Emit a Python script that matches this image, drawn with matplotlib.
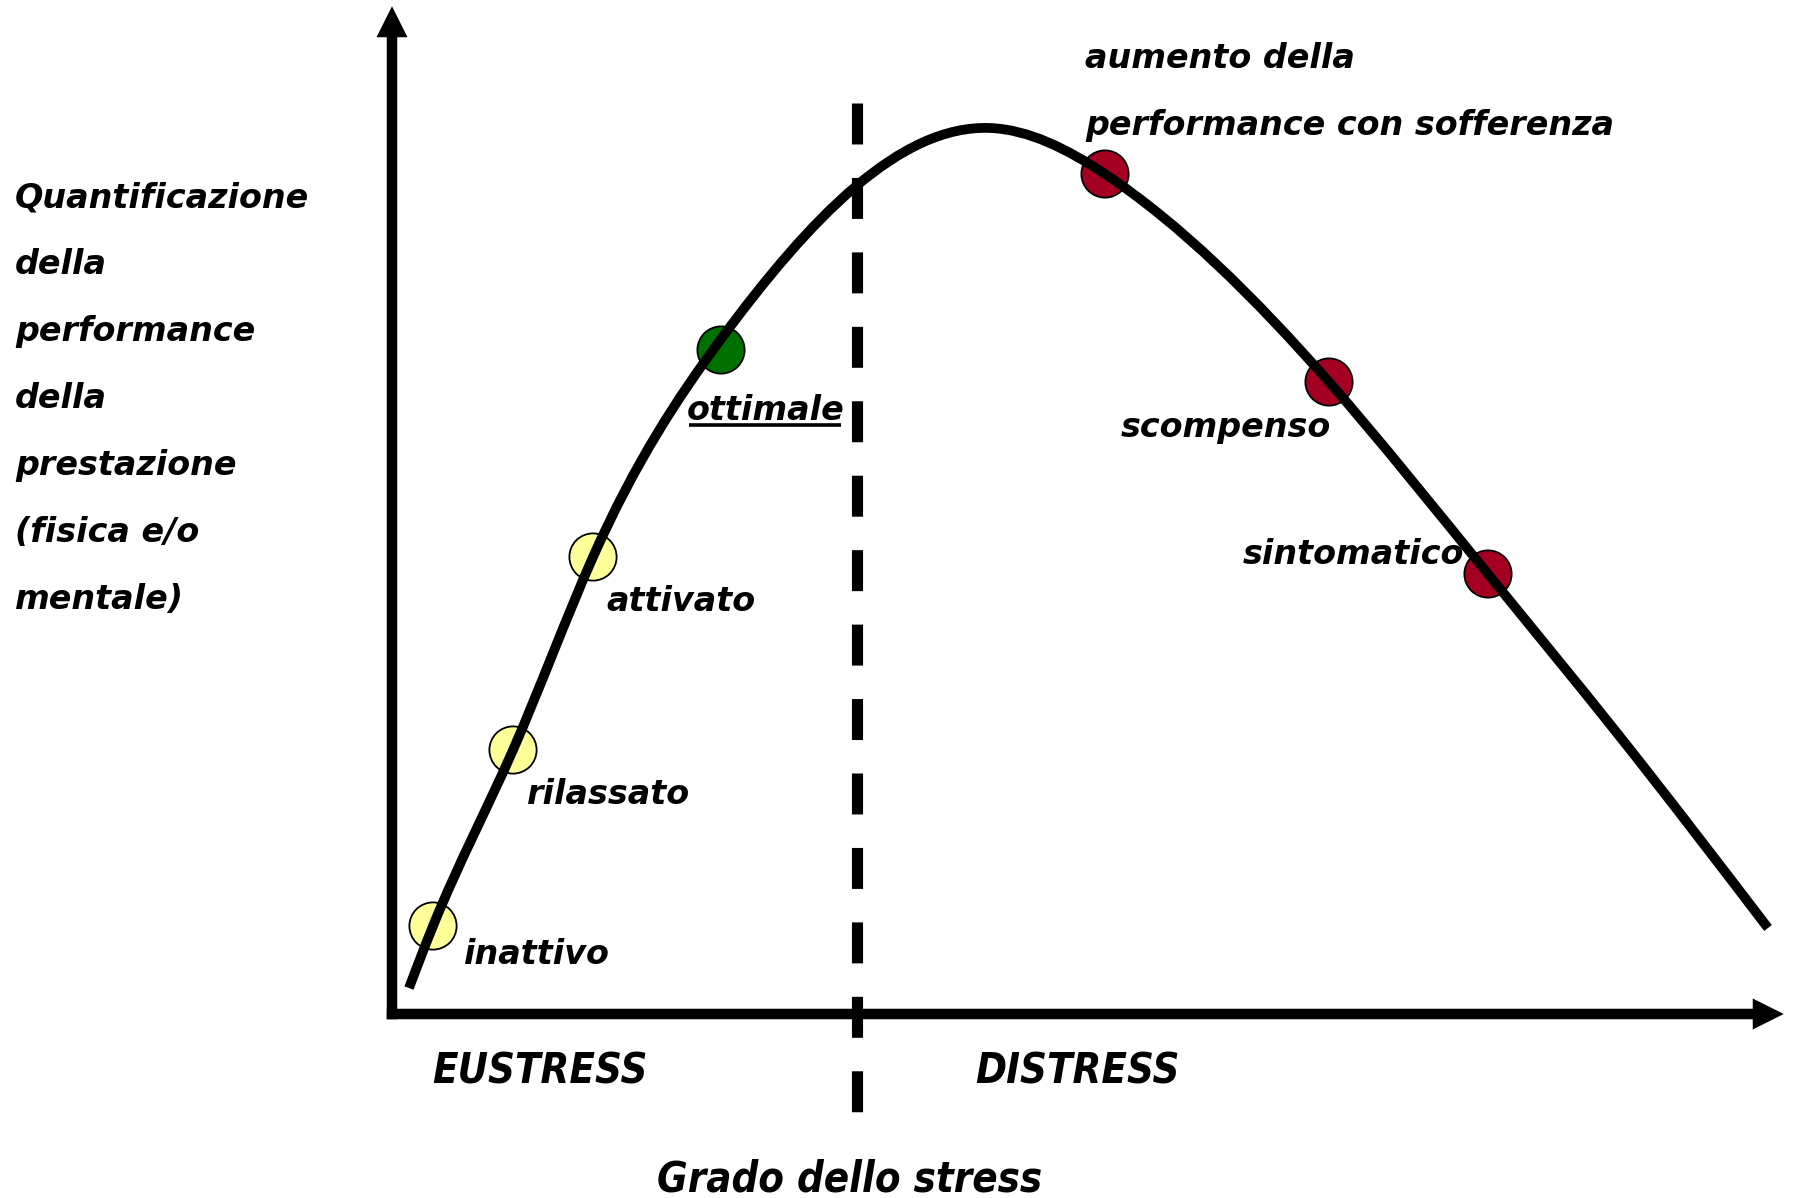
import numpy as np
import matplotlib
matplotlib.use("Agg")
import matplotlib.pyplot as plt
from matplotlib.path import Path
from matplotlib.patches import PathPatch

plt.rcParams["font.family"] = "DejaVu Sans"
plt.rcParams["lines.scale_dashes"] = False

# stress curve (x = degree of stress, y = performance)
curve_x = [0.17, 0.41, 1.21, 2.01, 3.29, 5.98, 7.13, 9.37, 10.96, 12.25, 13.76]
curve_y = [0.26, 0.88, 2.64, 4.57, 6.75, 8.86, 8.40, 6.32, 4.40, 2.81, 0.86]

# points on the curve
point_names = ["inattivo", "rilassato", "attivato", "ottimale", "aumento", "scompenso", "sintomatico"]
point_x = [0.41, 1.21, 2.01, 3.29, 7.13, 9.37, 10.96]
point_y = [0.88, 2.64, 4.57, 6.64, 8.40, 6.32, 4.40]
point_col = ["#FFFF99", "#FFFF99", "#FFFF99", "#007000", "#A50021", "#A50021", "#A50021"]

threshold_x = 4.65  # eustress / distress boundary

ylabel_lines = ["Quantificazione", "della", "performance", "della",
                "prestazione", "(fisica e/o", "mentale)"]

fig = plt.figure(figsize=(17.93, 11.98), dpi=100)
ax = fig.add_axes([0, 0, 1, 1])
ax.set_xlim(-3.92, 14.01)
ax.set_ylim(-1.84, 10.14)
ax.axis("off")

# axes with arrows
ax.arrow(-0.0525, 0, 13.97, 0, width=0.105, head_width=0.31, head_length=0.31,
         length_includes_head=True, fc="black", ec="none", zorder=3)
ax.arrow(0, -0.0525, 0, 10.13, width=0.105, head_width=0.31, head_length=0.31,
         length_includes_head=True, fc="black", ec="none", zorder=3)

# dashed threshold
ax.plot([threshold_x, threshold_x], [9.11, -0.99], color="black", lw=8,
        dashes=(29.5, 24.1), dash_capstyle="butt", zorder=1)

# smooth curve: natural cubic spline slopes, drawn as bezier segments
x = np.array(curve_x)
y = np.array(curve_y)
n = len(x)
h = np.diff(x)
A = np.zeros((n, n))
r = np.zeros(n)
A[0, 0] = A[-1, -1] = 1
for i in range(1, n - 1):
    A[i, i - 1] = h[i - 1]
    A[i, i] = 2 * (h[i - 1] + h[i])
    A[i, i + 1] = h[i]
    r[i] = 6 * ((y[i + 1] - y[i]) / h[i] - (y[i] - y[i - 1]) / h[i - 1])
M = np.linalg.solve(A, r)
m = np.zeros(n)
m[:-1] = (y[1:] - y[:-1]) / h - h * (2 * M[:-1] + M[1:]) / 6
m[-1] = (y[-1] - y[-2]) / h[-1] + h[-1] * (M[-2] + 2 * M[-1]) / 6

verts = [(x[0], y[0])]
codes = [Path.MOVETO]
for i in range(n - 1):
    d = h[i] / 3
    verts += [(x[i] + d, y[i] + m[i] * d), (x[i + 1] - d, y[i + 1] - m[i + 1] * d), (x[i + 1], y[i + 1])]
    codes += [Path.CURVE4] * 3
ax.add_patch(PathPatch(Path(verts, codes), fill=False, lw=7, ec="black",
                       capstyle="butt", zorder=4))

ax.scatter(point_x, point_y, s=34 ** 2, c=point_col, edgecolors="black",
           linewidths=1.3, zorder=3)

txt = dict(fontsize=24, fontweight="bold", fontstyle="italic", va="baseline")

# labels: (text, offset in points from its point, alignment)
labels = {
    "inattivo": [("inattivo", 22, -27, "left")],
    "rilassato": [("rilassato", 10, -39, "left")],
    "attivato": [("attivato", 10, -39, "left")],
    "ottimale": [("ottimale", -24.5, -50.4, "left")],
    "aumento": [("aumento della", -14.4, 76.3, "left"),
                ("performance con sofferenza", -14.4, 28, "left")],
    "scompenso": [("scompenso", 1.5, -39.6, "right")],
    "sintomatico": [("sintomatico", -17.3, 7.2, "right")],
}
opt_txt = None
for name, px, py in zip(point_names, point_x, point_y):
    for s, dx, dy, ha in labels[name]:
        t = ax.annotate(s, (px, py), xytext=(dx, dy), textcoords="offset points",
                        ha=ha, zorder=5, **txt)
        if name == "ottimale":
            opt_txt = (t, px, py, dy)

for i, line in enumerate(ylabel_lines):
    ax.text(-3.77, 8.07 - 0.67 * i, line, ha="left", **txt)

big = dict(fontsize=30, fontweight="bold", fontstyle="italic", va="baseline",
           family=["DejaVu Sans Condensed", "DejaVu Sans"], fontstretch="condensed")
ax.text(0.40, -0.69, "EUSTRESS", ha="left", **big)
ax.text(5.83, -0.69, "DISTRESS", ha="left", **big)
ax.text(2.65, -1.78, "Grado dello stress", ha="left", **big)

# underline "ottimale"
fig.canvas.draw()
t, px, py, dy = opt_txt
bb = t.get_window_extent()
inv = ax.transData.inverted()
base = ax.transData.transform((px, py))[1] + dy * fig.dpi / 72 - 5
x0, yline = inv.transform((bb.x0 + 2, base))
x1, _ = inv.transform((bb.x1 - 4, base))
ax.plot([x0, x1], [yline, yline], color="black", lw=2.6, solid_capstyle="butt", zorder=5)

fig.savefig("out.png", dpi=100, facecolor="white")
